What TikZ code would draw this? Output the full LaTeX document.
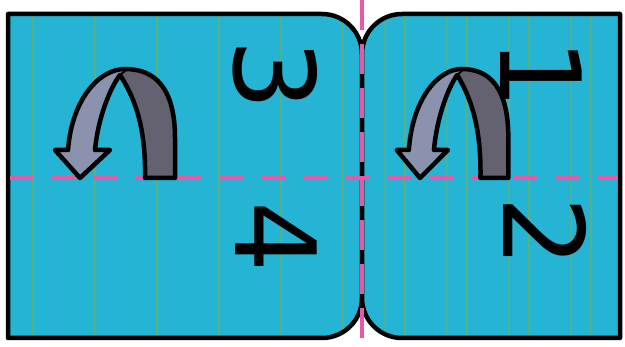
\documentclass[tikz,border=0pt]{standalone}
\usepackage{fontspec}
\newfontfamily\digitfont{DejaVu Sans}
\definecolor{sheet}{RGB}{38,180,212}
\definecolor{ruling}{RGB}{88,178,128}
\definecolor{foldpink}{RGB}{232,88,168}
\definecolor{bandfront}{RGB}{138,146,174}
\definecolor{bandback}{RGB}{100,98,112}
\tikzset{
  panel/.style={fill=sheet,draw=black,line width=4.5pt,line join=round,
    path picture={
      \foreach \x in {33,95,...,591} \draw[ruling,line width=1.8pt] (\x,0) -- (\x,347);
      \foreach \x in {385,447,...,571} \draw[ruling,line width=1.5pt,opacity=.7] (\x,0) -- (\x,347);
    }},
  foldline/.style={foldpink,line width=4pt},
  digit/.style={font=\digitfont\fontsize{112}{112}\selectfont,rotate=-90,inner sep=0pt},
  foldarrow/.pic={
    \fill[bandback] (95,0) -- (95,40) .. controls (95,90) and (75,109) .. (45,109)
      .. controls (20,109) and (-8,80) .. (-12,28) -- (-25,28) -- (0,0) -- (30,28) -- (15,28)
      .. controls (18,60) and (30,90) .. (40,103) .. controls (55,80) and (66,50) .. (65,0) -- cycle;
    \fill[bandfront] (45,109) .. controls (20,109) and (-8,80) .. (-12,28) -- (-25,28) -- (0,0)
      -- (30,28) -- (15,28) .. controls (18,60) and (30,90) .. (40,103) -- cycle;
    \draw[line width=4.5pt,line join=round] (95,0) -- (95,40) .. controls (95,90) and (75,109) .. (45,109)
      .. controls (20,109) and (-8,80) .. (-12,28) -- (-25,28) -- (0,0) -- (30,28) -- (15,28)
      .. controls (18,60) and (30,90) .. (40,103) .. controls (55,80) and (66,50) .. (65,0) -- cycle;
    \draw[line width=2pt] (40,103) -- (46,108);
  }
}
\begin{document}
\begin{tikzpicture}[x=1pt,y=1pt]
  \fill[white] (0,0) rectangle (625,347);
  \useasboundingbox (0,0) rectangle (625,347);
  % the two halves of the sheet
  \path[panel] (8,9) -- (8,333) -- (322,333) arc[start angle=90,end angle=0,radius=40]
    -- (362,49) arc[start angle=0,end angle=-90,radius=40] -- cycle;
  \path[panel] (620,9) -- (620,333) -- (402,333) arc[start angle=90,end angle=180,radius=40]
    -- (362,49) arc[start angle=180,end angle=270,radius=40] -- cycle;
  % fold lines
  \draw[foldline,dash pattern=on 23pt off 19pt] (10,169) -- (618,169);
  \draw[foldline,dash pattern=on 30pt off 14pt] (362,347) -- (362,0);
  % fold arrows
  \pic (leftfold) at (80,169) {foldarrow};
  \pic[xscale=0.93] (rightfold) at (420,169) {foldarrow};
  % page numbers
  \node[digit] (three) at (275,272) {3};
  \node[digit] (four) at (276,110) {4};
  \node[digit] (one) at (541,273) {1};
  \node[digit] (two) at (545,115) {2};
\end{tikzpicture}
\end{document}
